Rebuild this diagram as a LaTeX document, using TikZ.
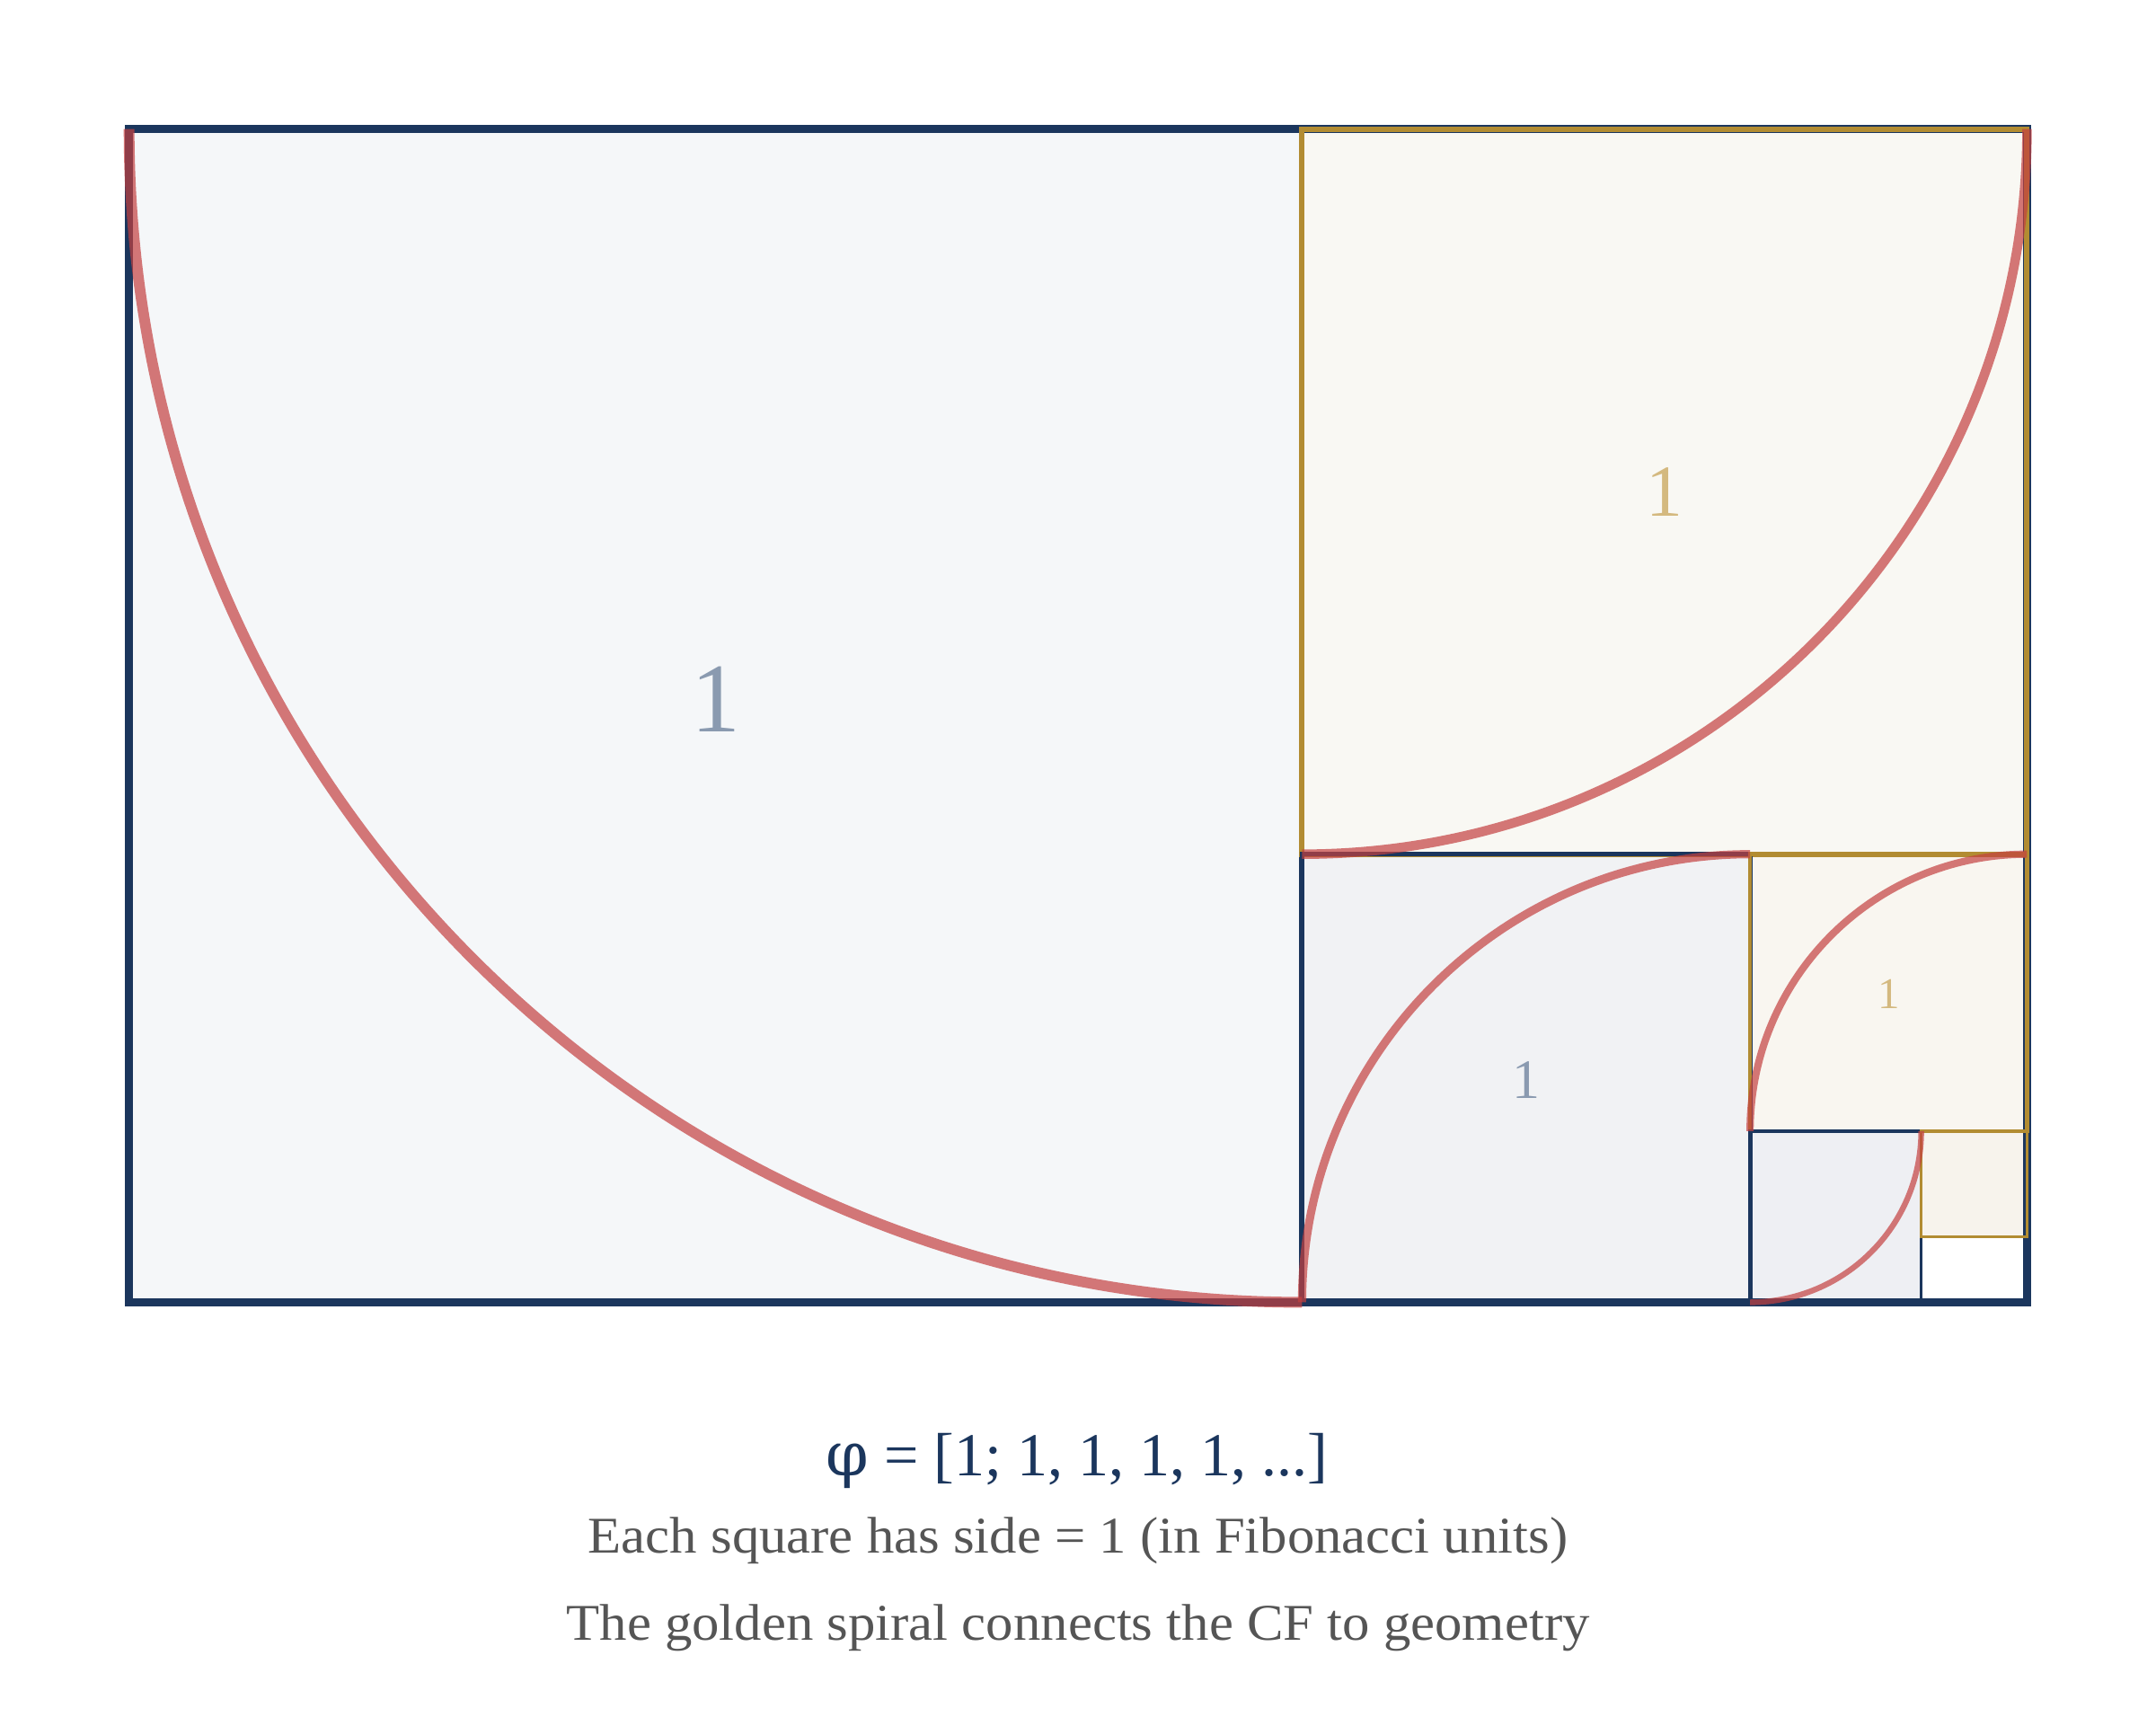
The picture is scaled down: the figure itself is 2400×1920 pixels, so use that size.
\documentclass[tikz,border=0pt]{standalone}
\usepackage{fontspec}
\setmainfont{Liberation Serif}
\newfontfamily\capfont[FakeStretch=1.06]{Liberation Serif}
\newfontfamily\phifont{DejaVu Serif}
\definecolor{navy}{RGB}{27,54,93}
\definecolor{gold}{RGB}{178,140,50}
\definecolor{spiralred}{RGB}{196,64,64}
\definecolor{labnavy}{RGB}{138,154,176}
\definecolor{labgold}{RGB}{212,185,127}
\definecolor{capgray}{RGB}{85,85,85}
\definecolor{fillA}{RGB}{245,247,249}
\definecolor{fillB}{RGB}{249,248,243}
\definecolor{fillC}{RGB}{241,242,244}
\definecolor{fillD}{RGB}{249,246,240}
\definecolor{fillE}{RGB}{238,239,243}
\definecolor{fillF}{RGB}{247,243,236}
\tikzset{
  arcline/.style={draw=spiralred, draw opacity=0.7, line cap=butt},
  navyedge/.style={draw=navy, line join=miter},
  goldedge/.style={draw=gold, line join=miter},
  lab/.style={inner sep=0pt, outer sep=0pt},
}
\begin{document}
\begin{tikzpicture}[x=0.01cm,y=-0.01cm]
\useasboundingbox[fill=white] (0,0) rectangle (2400,1920);
% corner coordinates
\coordinate (o1) at (143.7,143.7);
\coordinate (o2) at (2256.37,1449.4);
% fills
\fill[fillA] (143.7,143.7) rectangle (1449.4,1449.4);
\fill[fillB] (1449.4,143.7) rectangle (2256.37,950.67);
\fill[fillC] (1449.4,950.67) rectangle (1948.13,1449.4);
\fill[fillD] (1948.13,950.67) rectangle (2256.37,1258.91);
\fill[fillE] (1948.13,1258.91) rectangle (2138.62,1449.4);
\fill[fillF] (2138.62,1258.91) rectangle (2256.37,1376.66);
% outer frame
\draw[navyedge, line width=2.56pt] (o1) rectangle (o2);
% square edges
\draw[navyedge, line width=1.7pt] (143.7,143.7) rectangle (1449.4,1449.4);
\draw[goldedge, line width=1.7pt] (1449.4,143.7) rectangle (2256.37,950.67);
\draw[navyedge, line width=1.42pt] (1449.4,950.67) rectangle (1948.13,1449.4);
\draw[goldedge, line width=1.28pt] (1948.13,950.67) rectangle (2256.37,1258.91);
\draw[navyedge, line width=1.0pt] (1948.13,1258.91) rectangle (2138.62,1449.4);
\draw[goldedge, line width=0.85pt] (2138.62,1258.91) rectangle (2256.37,1376.66);
% spiral arcs
\draw[arcline, line width=3.4pt] (143.7,143.7) arc[start angle=180, end angle=90, radius=1305.7];
\draw[arcline, line width=3.0pt] (1449.4,950.67) arc[start angle=90, end angle=0, radius=806.97];
\draw[arcline, line width=2.6pt] (1449.4,1449.4) arc[start angle=180, end angle=270, radius=498.73];
\draw[arcline, line width=2.3pt] (1948.13,1258.91) arc[start angle=180, end angle=270, radius=308.24];
\draw[arcline, line width=1.8pt] (1948.13,1449.4) arc[start angle=90, end angle=0, radius=190.49];
% labels
\node[lab, text=labnavy, font=\fontsize{31.2pt}{31.2pt}\selectfont] (l1) at (796.7,778.7) {1};
\node[lab, text=labgold, font=\fontsize{23.2pt}{23.2pt}\selectfont] (l2) at (1852.7,548) {1};
\node[lab, text=labnavy, font=\fontsize{17.6pt}{17.6pt}\selectfont] (l3) at (1699,1202) {1};
\node[lab, text=labgold, font=\fontsize{13.9pt}{13.9pt}\selectfont] (l4) at (2102.7,1106) {1};
% captions
\node[lab, anchor=base, text=navy, font=\fontsize{19.35pt}{19.35pt}\selectfont] (cf) at (1199,1642.7) {{\phifont φ} = [1; 1, 1, 1, 1, ...]};
\node[lab, anchor=base, text=capgray, font=\capfont\fontsize{16.3pt}{16.3pt}\selectfont] (c1) at (1200,1728.3) {Each square has side = 1 (in Fibonacci units)};
\node[lab, anchor=base, text=capgray, font=\capfont\fontsize{16.3pt}{16.3pt}\selectfont] (c2) at (1200,1825) {The golden spiral connects the CF to geometry};
\end{tikzpicture}
\end{document}
